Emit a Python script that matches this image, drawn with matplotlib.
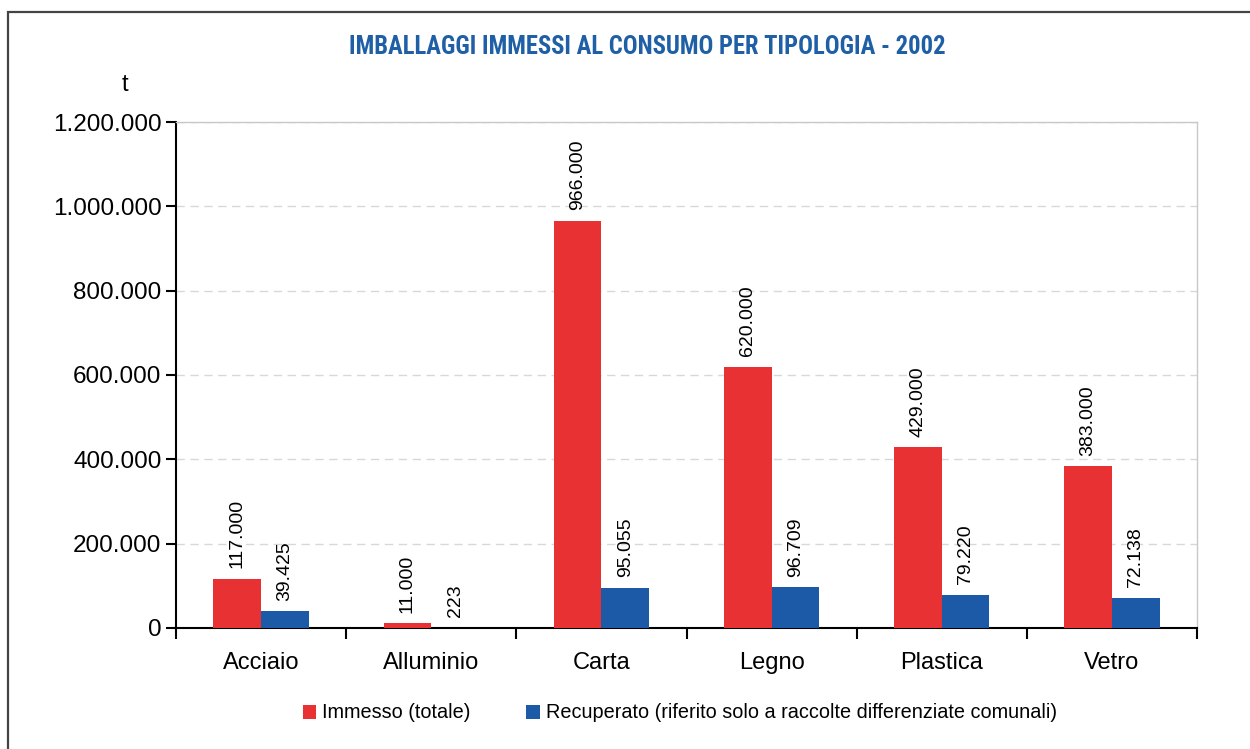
import numpy as np
import matplotlib.pyplot as plt
from matplotlib import font_manager
from matplotlib.patches import Rectangle
from matplotlib.ticker import FuncFormatter, FixedLocator

categories = ["Acciaio", "Alluminio", "Carta", "Legno", "Plastica", "Vetro"]
immesso = [117000, 11000, 966000, 620000, 429000, 383000]
recuperato = [39425, 223, 95055, 96709, 79220, 72138]
yticks = [0, 200000, 400000, 600000, 800000, 1000000, 1200000]

red = "#e83132"
blue = "#1c5aa8"
title_blue = "#1f5fa6"

plt.rcParams['font.family'] = ['Liberation Sans', 'DejaVu Sans']

# pick a narrow font for the title if one is installed
names = {f.name for f in font_manager.fontManager.ttflist}
narrow = [n for n in ['Liberation Sans Narrow', 'DejaVu Sans Condensed',
                      'Roboto Condensed', 'Open Sans Condensed'] if n in names]
title_family = narrow[:1] + ['DejaVu Sans']


def fmt(v, pos=None):
    return f"{int(v):,}".replace(",", ".")


fig = plt.figure(figsize=(12.5, 7.49), dpi=100)
ax = fig.add_axes([0.1408, 0.1616, 0.8168, 0.6755])

# outer frame
fig.patches.append(Rectangle((8 / 1250, -0.05), 1.1, 1 - 12 / 749 + 0.05,
                             transform=fig.transFigure, fill=False,
                             edgecolor="#444444", linewidth=1.6))

x = np.arange(len(categories))
w = 0.28
ax.bar(x - w / 2, immesso, w, color=red, label="Immesso (totale)", zorder=3)
ax.bar(x + w / 2, recuperato, w, color=blue,
       label="Recuperato (riferito solo a raccolte differenziate comunali)", zorder=3)

for xi, v in zip(x, immesso):
    ax.annotate(fmt(v), (xi - w / 2, v), xytext=(0, 7.5), textcoords="offset points",
                rotation=90, ha="center", va="bottom", fontsize=14)
for xi, v in zip(x, recuperato):
    ax.annotate(fmt(v), (xi + w / 2, v), xytext=(0, 7.5), textcoords="offset points",
                rotation=90, ha="center", va="bottom", fontsize=14)

ax.set_xlim(-0.5, len(categories) - 0.5)
ax.set_ylim(0, 1200000)
ax.set_yticks(yticks)
ax.yaxis.set_major_formatter(FuncFormatter(fmt))
ax.tick_params(axis="y", labelsize=17.5, length=7, width=1.5, direction="out")

ax.xaxis.set_major_locator(FixedLocator(np.arange(-0.5, len(categories) + 0.5, 1)))
ax.xaxis.set_minor_locator(FixedLocator(x))
ax.xaxis.set_major_formatter(FuncFormatter(lambda v, p: ""))
ax.set_xticks(x, categories, minor=True)
ax.tick_params(axis="x", which="major", length=8, width=1.5, direction="out")
ax.tick_params(axis="x", which="minor", length=0, labelsize=17, pad=17)

ax.grid(axis="y", linestyle=(0, (6, 4)), color="#d8d8d8", linewidth=1, zorder=0)
for s in ["top", "right"]:
    ax.spines[s].set_color("#c8c8c8")
    ax.spines[s].set_linewidth(1)
for s in ["left", "bottom"]:
    ax.spines[s].set_color("black")
    ax.spines[s].set_linewidth(1.5)

title_size = 17.7 if narrow else 14.5
fig.text(0.5175, 1 - 47 / 749, "IMBALLAGGI IMMESSI AL CONSUMO PER TIPOLOGIA - 2002",
         ha="center", va="center", fontsize=title_size, fontweight="bold",
         color=title_blue, family=title_family)
fig.text(125 / 1250, 1 - 85 / 749, "t", ha="center", va="center", fontsize=17)

fig.legend(loc="center", bbox_to_anchor=(0.544, 1 - 713 / 749), ncol=2, frameon=False,
           fontsize=14.3, handlelength=0.7, handleheight=0.7, handletextpad=0.3,
           columnspacing=2.8)

fig.savefig("out.png", dpi=100)
